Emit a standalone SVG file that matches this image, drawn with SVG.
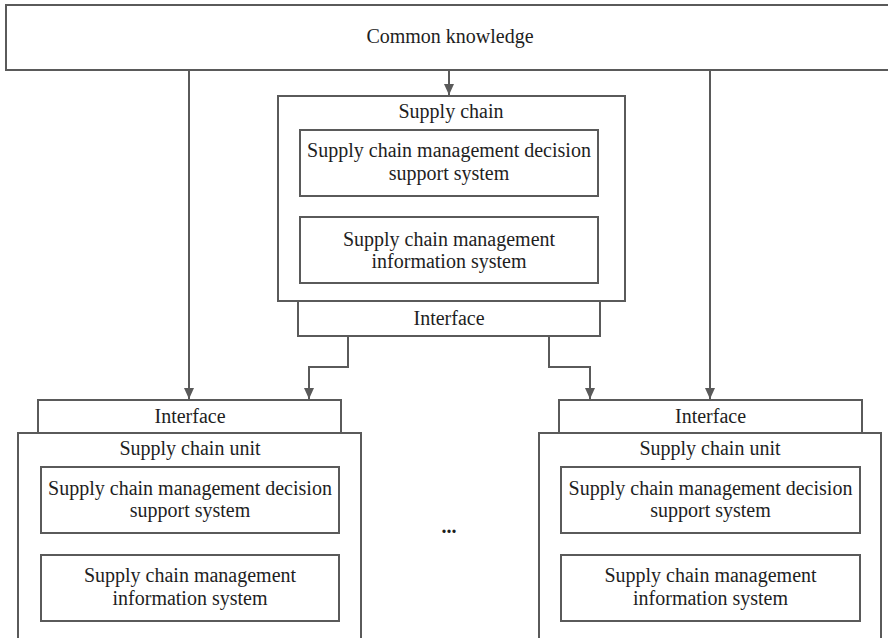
<svg xmlns="http://www.w3.org/2000/svg" width="888" height="638" viewBox="0 0 888 638">
  <style>
    .box { fill: #ffffff; stroke: #5a5a5a; stroke-width: 2; }
    .lbl { font-family: "Liberation Serif", "Times New Roman", serif; font-size: 20px; fill: #1e1e1e; text-anchor: middle; }
    .wire { fill: none; stroke: #5a5a5a; stroke-width: 2; }
  </style>
  <defs>
    <marker id="arrow" markerUnits="userSpaceOnUse" markerWidth="12" markerHeight="12" viewBox="0 0 12 12" refX="11" refY="6" orient="auto">
      <path d="M0,1 L11,6 L0,11 Z" fill="#5a5a5a"/>
    </marker>
  </defs>

  <rect width="888" height="638" fill="#ffffff"/>

  <!-- connectors -->
  <g id="connectors" class="wire">
    <path class="wire" d="M449,70 V95" marker-end="url(#arrow)"/>
    <path class="wire" d="M189,70 V399" marker-end="url(#arrow)"/>
    <path class="wire" d="M710,70 V399" marker-end="url(#arrow)"/>
    <path class="wire" d="M348,336 V367 H309 V399" marker-end="url(#arrow)"/>
    <path class="wire" d="M549,336 V367 H590 V399" marker-end="url(#arrow)"/>
  </g>

  <!-- shared knowledge base -->
  <g id="common-knowledge">
    <rect class="box" x="6" y="5" width="895" height="65"/>
    <text class="lbl" x="450" y="43">Common knowledge</text>
  </g>

  <!-- supply chain level -->
  <g id="supply-chain">
    <rect class="box" x="278" y="96" width="347" height="205"/>
    <text class="lbl" x="451" y="117.5">Supply chain</text>
  </g>
  <g id="sc-dss">
    <rect class="box" x="300" y="130" width="298" height="66"/>
    <text class="lbl" x="449" y="157.3">Supply chain management decision</text>
    <text class="lbl" x="449" y="179.8">support system</text>
  </g>
  <g id="sc-mis">
    <rect class="box" x="300" y="217" width="298" height="66"/>
    <text class="lbl" x="449" y="245.7">Supply chain management</text>
    <text class="lbl" x="449" y="268.3">information system</text>
  </g>
  <g id="sc-interface">
    <rect class="box" x="298" y="301" width="302" height="35"/>
    <text class="lbl" x="449" y="325">Interface</text>
  </g>

  <!-- left supply chain unit -->
  <g id="unit-a-interface">
    <rect class="box" x="38" y="400" width="303" height="33"/>
    <text class="lbl" x="190" y="423.3">Interface</text>
  </g>
  <g id="unit-a">
    <rect class="box" x="18" y="433" width="343" height="220"/>
    <text class="lbl" x="190" y="455">Supply chain unit</text>
  </g>
  <g id="unit-a-dss">
    <rect class="box" x="41" y="467" width="298" height="66"/>
    <text class="lbl" x="190" y="495">Supply chain management decision</text>
    <text class="lbl" x="190" y="517.3">support system</text>
  </g>
  <g id="unit-a-mis">
    <rect class="box" x="41" y="555" width="298" height="66"/>
    <text class="lbl" x="190" y="582.3">Supply chain management</text>
    <text class="lbl" x="190" y="605">information system</text>
  </g>

  <!-- more units in between -->
  <g id="ellipsis">
    <text class="lbl" x="449" y="533" font-weight="bold">...</text>
  </g>

  <!-- right supply chain unit -->
  <g id="unit-n-interface">
    <rect class="box" x="559" y="400" width="303" height="33"/>
    <text class="lbl" x="710.5" y="423.3">Interface</text>
  </g>
  <g id="unit-n">
    <rect class="box" x="539" y="433" width="342" height="220"/>
    <text class="lbl" x="710" y="455">Supply chain unit</text>
  </g>
  <g id="unit-n-dss">
    <rect class="box" x="561" y="467" width="299" height="66"/>
    <text class="lbl" x="710.5" y="495">Supply chain management decision</text>
    <text class="lbl" x="710.5" y="517.3">support system</text>
  </g>
  <g id="unit-n-mis">
    <rect class="box" x="561" y="555" width="299" height="66"/>
    <text class="lbl" x="710.5" y="582.3">Supply chain management</text>
    <text class="lbl" x="710.5" y="605">information system</text>
  </g>
</svg>
